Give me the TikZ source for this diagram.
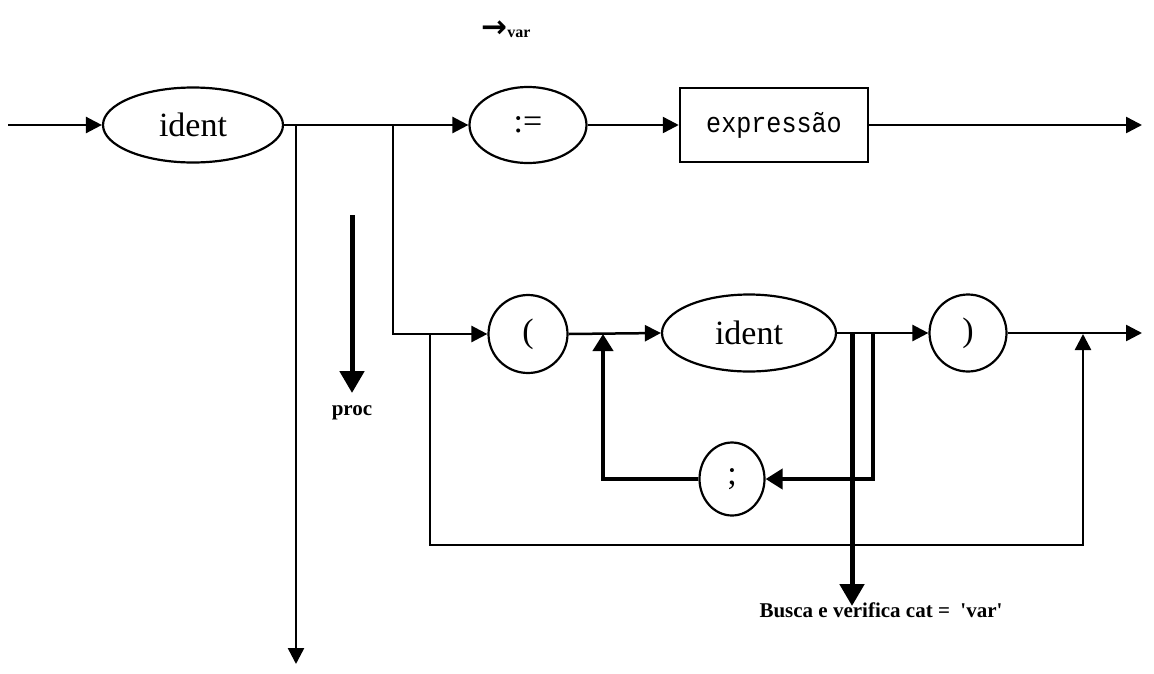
\documentclass[tikz,border=0pt]{standalone}
\usepackage{fontspec}
\setmainfont{Liberation Serif}
\newfontfamily\monof{Liberation Mono}
\newfontfamily\dejavuf{DejaVu Sans}
\usetikzlibrary{shapes.geometric,arrows.meta}
\begin{document}
\begin{tikzpicture}[x=1pt,y=-1pt,
  term/.style={ellipse,draw,line width=2.2pt,inner sep=0pt,font=\fontsize{34}{36}\selectfont},
  nterm/.style={rectangle,draw,line width=2.5pt,inner sep=0pt,minimum width=188pt,minimum height=74pt},
  conn/.style={line width=2.5pt},
  arr/.style={conn,-{Triangle[length=16pt,width=16pt]}},
  tharr/.style={line width=4pt,-{Triangle[length=17pt,width=20pt]}},
  bigarr/.style={line width=5pt,-{Triangle[length=22pt,width=24pt]}},
  lbl/.style={font=\fontsize{21}{23}\selectfont\bfseries,inner sep=0pt}]
\useasboundingbox (0,0) rectangle (1154,673);
% top row
\node[term,minimum width=180pt,minimum height=75pt] (id1) at (193,125) {ident};
\node[term,minimum width=117pt,minimum height=76pt] (assign) at (528,125) {:=};
\node[nterm] (expr) at (774,125) {\monof\fontsize{27}{30}\selectfont\scalebox{0.93}[1.05]{expressão}};
% second row
\node[term,minimum width=79pt,minimum height=78pt] (lp) at (528,334) {(};
\node[term,minimum width=174pt,minimum height=77pt] (id2) at (749,333) {ident};
\node[term,minimum width=77pt,minimum height=77pt] (rp) at (968,333) {)};
\node[term,minimum width=65pt,minimum height=73pt] (semi) at (732,479) {;};
% coordinates
\coordinate (start) at (8,125);
\coordinate (b1) at (296,125);
\coordinate (b1end) at (296,664);
\coordinate (b2) at (393,125);
\coordinate (end1) at (1142,125);
\coordinate (end2) at (1142,333);
\coordinate (byp) at (430,333);
\coordinate (bypend) at (1083,334);
\coordinate (loopstart) at (873,333);
\coordinate (loopend) at (603,334);
\coordinate (busca) at (852,333);
\coordinate (buscaend) at (852,606);
\coordinate (procs) at (352,215);
\coordinate (proce) at (352,393);
\coordinate (varpos) at (506,29);
% connectors
\draw[arr] (start) -- (id1.west);
\draw[arr] (id1.east) -- (assign.west);
\draw[arr] (b1) -- (b1end);
\draw[arr] (b2) |- (lp.west);
\draw[arr] (assign.east) -- (expr.west);
\draw[arr] (expr.east) -- (end1);
\draw[arr] (lp.east) -- (id2.west);
\draw[arr] (id2.east) -- (rp.west);
\draw[arr] (rp.east) -- (end2);
\draw[arr] (byp) |- (1083,545) -- (bypend);
\draw[tharr] (loopstart) |- (semi.east);
\draw[tharr] (semi.west) -| (loopend);
\draw[bigarr] (busca) -- (buscaend);
\draw[bigarr] (procs) -- (proce);
% labels
\node[lbl] (proc) at (352,413) {proc};
\node[lbl,anchor=north] (buscalbl) at (881,603) {Busca e verifica cat = \ \textquotesingle var\textquotesingle};
\node[inner sep=0pt] (varlbl) at (varpos) {{\dejavuf\bfseries\fontsize{31}{33}\selectfont →}{\bfseries\fontsize{16}{18}\selectfont var}};
\end{tikzpicture}
\end{document}
